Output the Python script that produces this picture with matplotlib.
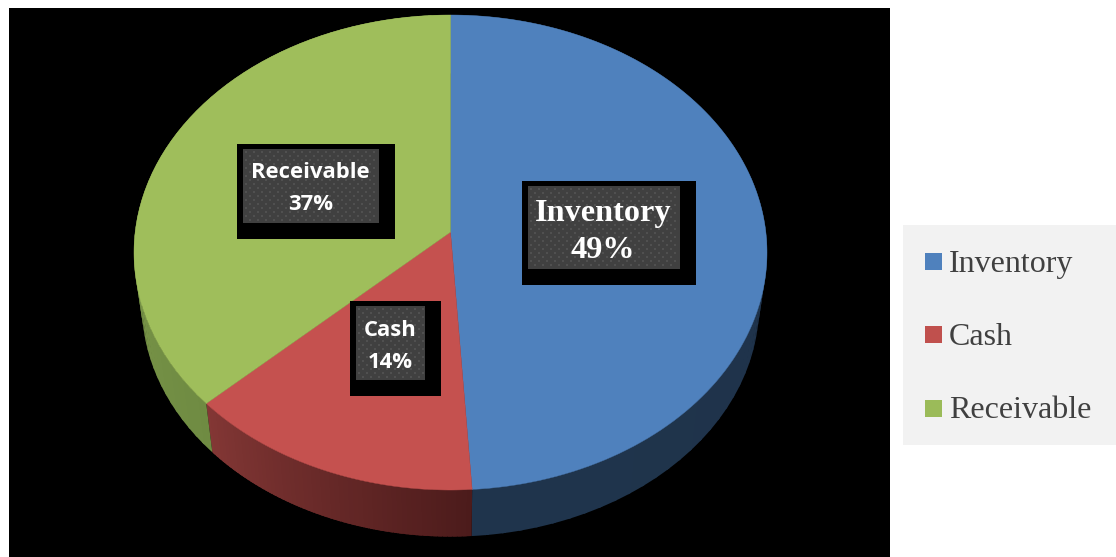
import numpy as np
import matplotlib
matplotlib.use("Agg")
import matplotlib.pyplot as plt
from matplotlib.patches import Polygon, Rectangle
from matplotlib.colors import to_rgb

categories = ["Inventory", "Cash", "Receivable"]
shares = [49, 14, 37]
face_colors = ["#4f81bd", "#c5514f", "#9fbe5b"]
# Side wall shade at the start and end of each slice's clockwise sweep
side_start = ["#1e3249", "#4c1b1b", "#6f8b42"]
side_end = ["#1f344c", "#833735", "#8fa957"]

TOP = dict(cx=450.5, cy=252.5, rx=316.5, ry=237.5)
BOTTOM = dict(cx=450.5, cy=305.0, rx=308.6, ry=231.6)
TILT = 0.086


def rim(theta, e):
    """Point on a tilted disc rim; theta runs clockwise from twelve o'clock."""
    x, y = np.sin(theta), np.cos(theta)
    d = 1 + TILT * y
    xp = x * np.sqrt(1 - TILT ** 2) / d
    yp = (y + TILT) / d
    return e["cx"] + e["rx"] * xp, e["cy"] - e["ry"] * yp


fig = plt.figure(figsize=(11.16, 5.57), dpi=100, facecolor="white")
ax = fig.add_axes([0, 0, 1, 1])
ax.set_xlim(0, 1116)
ax.set_ylim(557, 0)
ax.axis("off")

ax.add_patch(Rectangle((9, 8), 881, 549, fc="black", ec="none", zorder=0))

edges = np.concatenate([[0], np.cumsum(shares)]) / np.sum(shares) * 2 * np.pi
apex = (TOP["cx"], TOP["cy"] + TILT * -TOP["ry"])

# Side walls: narrow shaded strips between the upper and lower rims,
# painted in sweep order so each one overlaps its neighbour's seam
for i in range(len(shares)):
    steps = 60
    grid = np.linspace(edges[i], edges[i + 1], steps + 1)
    c0, c1 = np.array(to_rgb(side_start[i])), np.array(to_rgb(side_end[i]))
    for j in range(steps):
        overlap = 0.012 if j < steps - 1 else 0.0
        t = np.linspace(grid[j], grid[j + 1] + overlap, 4)
        xt, yt = rim(t, TOP)
        xb, yb = rim(t, BOTTOM)
        col = c0 + (c1 - c0) * (j + 0.5) / steps
        ax.add_patch(Polygon(np.c_[np.r_[xt, xb[::-1]], np.r_[yt, yb[::-1]]],
                             fc=col, ec="none", zorder=1))

# Top faces
for i in range(len(shares)):
    t = np.linspace(edges[i], edges[i + 1], 300)
    xt, yt = rim(t, TOP)
    pts = np.vstack([[apex], np.c_[xt, yt]])
    ax.add_patch(Polygon(pts, fc=face_colors[i], ec=face_colors[i], lw=0.3, zorder=2))


def data_label(outer, inner, lines, text_xy, **font):
    ox0, ox1, oy0, oy1 = outer
    ix0, ix1, iy0, iy1 = inner
    ax.add_patch(Rectangle((ox0, oy0), ox1 - ox0, oy1 - oy0, fc="black", ec="none", zorder=3))
    ax.add_patch(Rectangle((ix0, iy0), ix1 - ix0, iy1 - iy0, fc="#404040", ec="none", zorder=4))
    # Dotted texture of the label fill
    xs, ys = [], []
    for r, yy in enumerate(np.arange(iy0 + 3, iy1, 4.0)):
        for xx in np.arange(ix0 + 3 + (r % 2) * 4, ix1 - 1, 8.0):
            xs.append(xx)
            ys.append(yy)
    ax.scatter(xs, ys, s=3.0, marker="s", c="#505050", linewidths=0, zorder=5)
    for line, (tx, ty) in zip(lines, text_xy):
        ax.text(tx, ty, line, color="white", ha="center", va="center", zorder=6,
                fontweight="bold", **font)


serif = dict(family="Liberation Serif")
sans = dict(family="Open Sans")
data_label((522, 696, 181, 285), (528, 680, 186, 269),
           [categories[0], f"{shares[0]}%"], [(603.5, 213.5), (603, 250)], fontsize=23.2, **serif)
data_label((350, 441, 301, 396), (356, 425, 306, 380),
           [categories[1], f"{shares[1]}%"], [(390, 330), (390, 363)], fontsize=15.8, **sans)
data_label((237, 395, 144, 239), (243, 379, 149, 223),
           [categories[2], f"{shares[2]}%"], [(310.5, 172), (310.5, 205)], fontsize=15.8, **sans)

# Legend panel
ax.add_patch(Rectangle((903, 225), 213, 220, fc="#f2f2f2", ec="none", zorder=1))
swatch_tops = [253, 326, 400]
swatch_colors = ["#4f81bd", "#c0504d", "#9bbb59"]
text_y = [264.5, 337.5, 410.5]
for name, top, col, ty in zip(categories, swatch_tops, swatch_colors, text_y):
    ax.add_patch(Rectangle((925, top), 17, 17, fc=col, ec="none", zorder=2))
    ax.text(949, ty, name, color="#404040", family="Liberation Serif", fontsize=23,
            ha="left", va="center", zorder=3)

fig.savefig("out.png", dpi=100, facecolor="white")
